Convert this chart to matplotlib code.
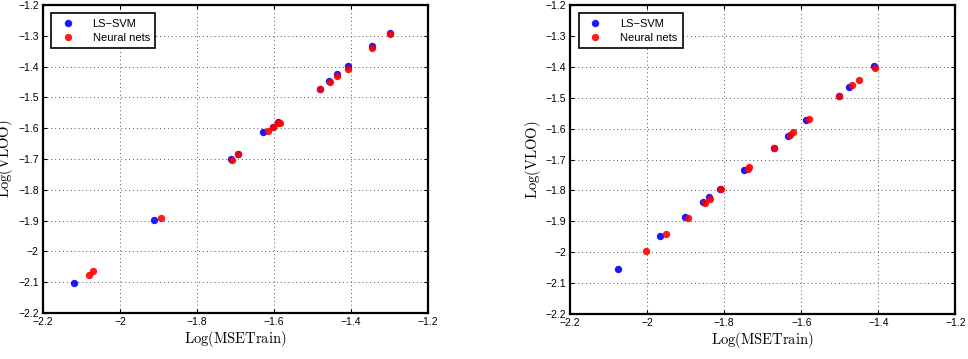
import matplotlib.pyplot as plt
import numpy as np

plt.rcParams['font.family'] = ['Liberation Sans', 'DejaVu Sans']
plt.rcParams['mathtext.fontset'] = 'cm'

# left panel
svm1_x = [-2.119, -1.912, -1.712, -1.694, -1.628, -1.604, -1.590, -1.481, -1.457, -1.437, -1.409, -1.345, -1.299]
svm1_y = [-2.102, -1.898, -1.700, -1.683, -1.613, -1.597, -1.579, -1.472, -1.448, -1.424, -1.398, -1.333, -1.292]
nn1_x = [-2.080, -2.071, -1.894, -1.710, -1.693, -1.617, -1.604, -1.591, -1.586, -1.480, -1.456, -1.436, -1.408, -1.345, -1.298]
nn1_y = [-2.076, -2.064, -1.890, -1.704, -1.684, -1.610, -1.596, -1.583, -1.584, -1.474, -1.451, -1.430, -1.408, -1.341, -1.294]

# right panel
svm2_x = [-2.076, -1.966, -1.903, -1.854, -1.840, -1.810, -1.750, -1.672, -1.635, -1.588, -1.503, -1.475, -1.412]
svm2_y = [-2.055, -1.948, -1.886, -1.836, -1.820, -1.796, -1.734, -1.662, -1.624, -1.572, -1.495, -1.464, -1.397]
nn2_x = [-2.003, -1.951, -1.894, -1.849, -1.836, -1.808, -1.738, -1.735, -1.672, -1.630, -1.622, -1.581, -1.503, -1.468, -1.449, -1.410]
nn2_y = [-1.996, -1.941, -1.888, -1.839, -1.828, -1.796, -1.729, -1.723, -1.662, -1.619, -1.610, -1.570, -1.495, -1.460, -1.443, -1.405]

xticks = [-2.2, -2, -1.8, -1.6, -1.4, -1.2]
yticks = [-2.2, -2.1, -2, -1.9, -1.8, -1.7, -1.6, -1.5, -1.4, -1.3, -1.2]

def fmt(v):
    s = ('%.1f' % v).rstrip('0').rstrip('.')
    return s.replace('-', '\u2212')

fig = plt.figure(figsize=(9.68, 3.59), dpi=100)
ax1 = fig.add_axes([0.0444, 0.128, 0.398, 0.858])
ax2 = fig.add_axes([0.589, 0.125, 0.398, 0.861])

for ax, sx, sy, nx, ny in [(ax1, svm1_x, svm1_y, nn1_x, nn1_y), (ax2, svm2_x, svm2_y, nn2_x, nn2_y)]:
    ax.plot(sx, sy, 'o', color='#0000ff', markersize=5.3, markeredgewidth=0, alpha=0.9, label='LS\u2212SVM')
    ax.plot(nx, ny, 'o', color='#ff0000', markersize=5.3, markeredgewidth=0, alpha=0.9, label='Neural nets')
    ax.set_xlim(-2.2, -1.2)
    ax.set_ylim(-2.2, -1.2)
    ax.set_xticks(xticks)
    ax.set_xticklabels([fmt(v) for v in xticks])
    ax.set_yticks(yticks)
    ax.set_yticklabels([fmt(v) for v in yticks])
    ax.tick_params(direction='in', top=True, right=True, labelsize=7.5, length=3, width=0.8, pad=3)
    ax.grid(True, linestyle=(0, (1, 3)), color='#555555', linewidth=0.7)
    for sp in ax.spines.values():
        sp.set_linewidth(1.6)
    ax.set_xlabel(r'$\mathrm{Log(MSETrain)}$', fontsize=10.5, labelpad=1)
    ax.set_ylabel(r'$\mathrm{Log(VLOO)}$', fontsize=10.5, labelpad=2)
    leg = ax.legend(loc='upper left', fontsize=8, fancybox=False, edgecolor='black',
                    framealpha=1, borderpad=0.5, handletextpad=1.2, labelspacing=0.35,
                    borderaxespad=0, bbox_to_anchor=(0.022, 0.973))
    leg.get_frame().set_linewidth(1.2)

fig.savefig('out.png', dpi=100)
